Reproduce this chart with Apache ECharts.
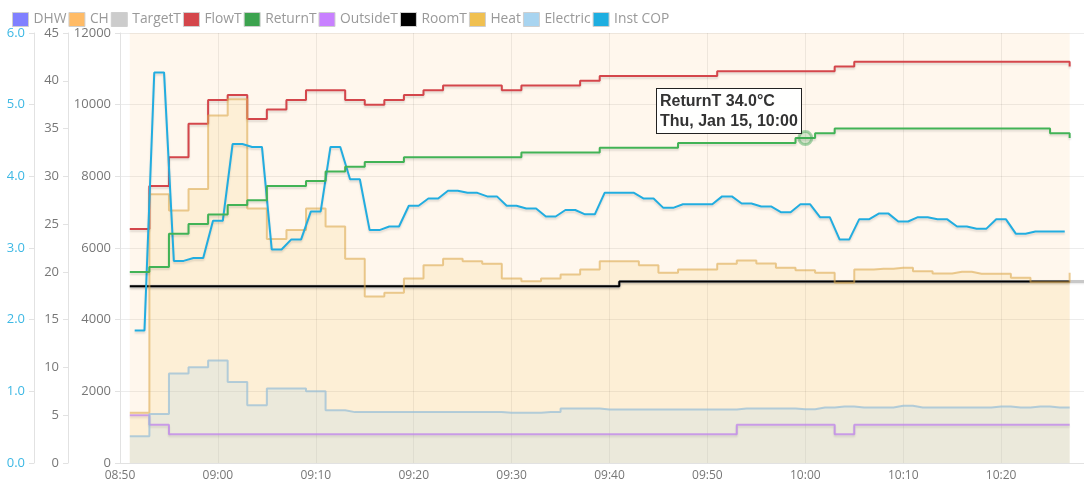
<!DOCTYPE html>
<html>
<head>
<meta charset="utf-8">
<script src="https://cdn.jsdelivr.net/npm/echarts@6/dist/echarts.min.js"></script>
<style>
  html, body { margin: 0; padding: 0; background: #fff; }
  #chart { width: 1084px; height: 487px; }
</style>
</head>
<body>
<div id="chart"></div>
<script>
// one sample per minute, 08:51 .. 10:27 (COP is logged half a minute later,
// TargetT has one more sample at 10:29)
const sampleCount = 97
const copCount = 96
const times = []
for (let i = 0; i < sampleCount; i++) times.push(new Date(2026, 0, 15, 8, 51 + i).getTime())
const copTimes = []
for (let i = 0; i < copCount; i++) copTimes.push(new Date(2026, 0, 15, 8, 51 + i, 30).getTime())
const targetTimes = times.concat([new Date(2026, 0, 15, 10, 29).getTime()])

const legendNames = ['DHW', 'CH', 'TargetT', 'FlowT', 'ReturnT', 'OutsideT', 'RoomT', 'Heat', 'Electric', 'Inst COP']
const tempTicks = [0, 5, 10, 15, 20, 25, 30, 35, 40, 45]
const powerTicks = [0, 2000, 4000, 6000, 8000, 10000, 12000]
const copTicks = [0, 1, 2, 3, 4, 5, 6]

// CH mode flag (1 = heating)
const chMode = [
  1,1,1,1,1,1,1,1,1,1, 1,1,1,1,1,1,1,1,1,1, 1,1,1,1,1,1,1,1,1,1, 1,1,1,1,1,1,1,1,1,1,
  1,1,1,1,1,1,1,1,1,1, 1,1,1,1,1,1,1,1,1,1, 1,1,1,1,1,1,1,1,1,1, 1,1,1,1,1,1,1,1,1,1,
  1,1,1,1,1,1,1,1,1,1, 1,1,1,1,1,1,1
]

// W
const heat = [
  1400,1400, 7500,7500, 7050,7050, 7650,7650, 9700,9700, 10150,10150, 7100,7100, 6250,6250, 6500,6500, 7100,7100,
  6600,6600, 5700,5700, 4650,4650, 4750,4750, 5150,5150, 5520,5520, 5700,5700, 5630,5630, 5560,5560, 5150,5150,
  5075,5075, 5150,5150, 5260,5260, 5400,5400, 5630,5630, 5630,5630, 5520,5520, 5310,5310, 5400,5400, 5400,5400,
  5560,5560, 5650,5650, 5570,5570, 5450,5450, 5380,5380, 5310,5310, 5030,5030, 5400,5400, 5420,5420, 5450,5450,
  5350,5350, 5290,5290, 5335,5335, 5280,5280, 5280,5280, 5170,5170, 5045,5045, 5045,5045,
  5310
]

const electric = [
  750,750, 1370,1370, 2500,2500, 2670,2670, 2860,2860, 2260,2260, 1610,1610, 2080,2080, 2080,2080, 2000,2000,
  1470,1470, 1420,1420, 1420,1420, 1420,1420, 1420,1420, 1420,1420, 1420,1420, 1420,1420, 1420,1420, 1400,1400,
  1400,1400, 1420,1420, 1520,1520, 1520,1520, 1490,1490, 1490,1490, 1490,1490, 1490,1490, 1490,1490, 1490,1490,
  1490,1490, 1520,1520, 1520,1520, 1520,1520, 1500,1500, 1550,1550, 1580,1580, 1550,1550, 1550,1550, 1600,1600,
  1550,1550, 1550,1550, 1550,1550, 1550,1550, 1580,1580, 1550,1550, 1580,1580, 1550,1550,
  1550
]

// °C
const flowT = [
  24.5,24.5, 29,29, 32,32, 35.5,35.5, 38,38, 38.5,38.5, 36,36, 37,37, 38,38, 39,39,
  39,39, 38,38, 37.5,37.5, 38,38, 38.5,38.5, 39,39, 39.5,39.5, 39.5,39.5, 39.5,39.5, 39,39,
  39.5,39.5, 39.5,39.5, 39.5,39.5, 40,40, 40.5,40.5, 40.5,40.5, 40.5,40.5, 40.5,40.5, 40.5,40.5, 40.5,40.5,
  41,41, 41,41, 41,41, 41,41, 41,41, 41,41, 41.5,41.5, 42,42, 42,42, 42,42,
  42,42, 42,42, 42,42, 42,42, 42,42, 42,42, 42,42, 42,42,
  41.5
]

const returnT = [
  20,20, 20.5,20.5, 24,24, 25,25, 26,26, 27,27, 27.5,27.5, 29,29, 29,29, 29.5,29.5,
  30.5,30.5, 31,31, 31.5,31.5, 31.5,31.5, 32,32, 32,32, 32,32, 32,32, 32,32, 32,32,
  32.5,32.5, 32.5,32.5, 32.5,32.5, 32.5,32.5, 33,33, 33,33, 33,33, 33,33, 33.5,33.5, 33.5,33.5,
  33.5,33.5, 33.5,33.5, 33.5,33.5, 33.5,33.5, 34,34, 34.5,34.5, 35,35, 35,35, 35,35, 35,35,
  35,35, 35,35, 35,35, 35,35, 35,35, 35,35, 35,35, 34.5,34.5,
  34
]

const roomT = [
  18.5,18.5, 18.5,18.5, 18.5,18.5, 18.5,18.5, 18.5,18.5, 18.5,18.5, 18.5,18.5, 18.5,18.5, 18.5,18.5, 18.5,18.5,
  18.5,18.5, 18.5,18.5, 18.5,18.5, 18.5,18.5, 18.5,18.5, 18.5,18.5, 18.5,18.5, 18.5,18.5, 18.5,18.5, 18.5,18.5,
  18.5,18.5, 18.5,18.5, 18.5,18.5, 18.5,18.5, 18.5,18.5, 19,19, 19,19, 19,19, 19,19, 19,19,
  19,19, 19,19, 19,19, 19,19, 19,19, 19,19, 19,19, 19,19, 19,19, 19,19,
  19,19, 19,19, 19,19, 19,19, 19,19, 19,19, 19,19, 19,19,
  19
]

const targetT = [
  18.5,18.5, 18.5,18.5, 18.5,18.5, 18.5,18.5, 18.5,18.5, 18.5,18.5, 18.5,18.5, 18.5,18.5, 18.5,18.5, 18.5,18.5,
  18.5,18.5, 18.5,18.5, 18.5,18.5, 18.5,18.5, 18.5,18.5, 18.5,18.5, 18.5,18.5, 18.5,18.5, 18.5,18.5, 18.5,18.5,
  18.5,18.5, 18.5,18.5, 18.5,18.5, 18.5,18.5, 18.5,18.5, 19,19, 19,19, 19,19, 19,19, 19,19,
  19,19, 19,19, 19,19, 19,19, 19,19, 19,19, 19,19, 19,19, 19,19, 19,19,
  19,19, 19,19, 19,19, 19,19, 19,19, 19,19, 19,19, 19,19,
  19, 19
]

const outsideT = [
  5,5, 4,4, 3,3, 3,3, 3,3, 3,3, 3,3, 3,3, 3,3, 3,3,
  3,3, 3,3, 3,3, 3,3, 3,3, 3,3, 3,3, 3,3, 3,3, 3,3,
  3,3, 3,3, 3,3, 3,3, 3,3, 3,3, 3,3, 3,3, 3,3, 3,3,
  3,3, 4,4, 4,4, 4,4, 4,4, 4,4, 3,3, 4,4, 4,4, 4,4,
  4,4, 4,4, 4,4, 4,4, 4,4, 4,4, 4,4, 4,4,
  4
]

const instCop = [
  1.85,1.85, 5.45,5.45, 2.82,2.82, 2.86,2.86, 3.38,3.38, 4.45,4.45, 4.41,4.41, 2.98,2.98, 3.12,3.12, 3.51,3.51,
  4.41,4.41, 3.96,3.96, 3.25,3.25, 3.30,3.30, 3.59,3.59, 3.69,3.69, 3.80,3.80, 3.77,3.77, 3.72,3.72, 3.59,3.59,
  3.55,3.55, 3.44,3.44, 3.53,3.53, 3.47,3.47, 3.77,3.77, 3.77,3.77, 3.69,3.69, 3.56,3.56, 3.61,3.61, 3.61,3.61,
  3.72,3.72, 3.62,3.62, 3.58,3.58, 3.50,3.50, 3.61,3.61, 3.43,3.43, 3.12,3.12, 3.40,3.40, 3.48,3.48, 3.37,3.37,
  3.43,3.43, 3.40,3.40, 3.30,3.30, 3.27,3.27, 3.40,3.40, 3.20,3.20, 3.23,3.23, 3.23,3.23
]

const hoverIndex = 69 // ReturnT at 10:00

const font = 'Open Sans'
const lineShadow = { shadowColor: 'rgba(0,0,0,0.12)', shadowBlur: 2, shadowOffsetY: 2 }
const DAYS = ['Sun', 'Mon', 'Tue', 'Wed', 'Thu', 'Fri', 'Sat']
const MONTHS = ['Jan', 'Feb', 'Mar', 'Apr', 'May', 'Jun', 'Jul', 'Aug', 'Sep', 'Oct', 'Nov', 'Dec']
const TEN_MIN = 600000

function pad(n) {
  return n.toString().padStart(2, '0')
}

function zip(ts, vs) {
  return vs.map((v, i) => [ts[i], v])
}

function tempLine(name, values, color, width, extra) {
  return Object.assign({
    name,
    type: 'line',
    yAxisIndex: 1,
    step: 'end',
    showSymbol: false,
    data: zip(times, values),
    itemStyle: { color },
    lineStyle: Object.assign({ color, width }, lineShadow),
    emphasis: { disabled: true },
  }, extra || {})
}

function yAxis(ticks, offset, labelColor, fmt) {
  return {
    type: 'value',
    position: 'left',
    offset,
    min: ticks[0],
    max: ticks[ticks.length - 1],
    interval: ticks[1] - ticks[0],
    axisLine: { show: true, lineStyle: { color: '#e2e2e2' } },
    axisTick: { show: true, length: 5, lineStyle: { color: '#e2e2e2' } },
    axisLabel: { color: labelColor, fontSize: 13, fontFamily: font, margin: 9, formatter: fmt || ((v) => String(v)) },
    splitLine: { show: false },
  }
}

const chart = echarts.init(document.getElementById('chart'))

const option = {
  animation: false,
  backgroundColor: '#fff',
  legend: {
    data: legendNames,
    left: 7,
    top: 7,
    icon: 'rect',
    itemWidth: 16,
    itemHeight: 14,
    itemGap: 2,
    selectedMode: false,
    itemStyle: { borderColor: '#cfcfcf', borderWidth: 1 },
    textStyle: { color: '#999', fontSize: 13.8, fontFamily: font },
  },
  tooltip: {
    trigger: 'item',
    triggerOn: 'none',
    alwaysShowContent: true,
    transitionDuration: 0,
    position: [656, 88],
    backgroundColor: 'rgba(255,255,255,0.95)',
    borderColor: '#222',
    borderWidth: 1,
    padding: [2, 3],
    textStyle: { fontFamily: 'Liberation Sans', fontWeight: 'bold', fontSize: 16, color: '#333' },
    extraCssText: 'box-shadow:none;border-radius:0;line-height:20px;',
    formatter: (p) => {
      const d = new Date(p.value[0])
      return `${p.seriesName} ${p.value[1].toFixed(1)}°C<br>` +
        `${DAYS[d.getDay()]}, ${MONTHS[d.getMonth()]} ${d.getDate()}, ${pad(d.getHours())}:${pad(d.getMinutes())}`
    },
  },
  grid: { left: 120, right: 0, top: 33, bottom: 24, outerBoundsMode: 'none' },
  xAxis: {
    // plain value axis in ms so the 10 minute step is honoured exactly
    type: 'value',
    min: new Date(2026, 0, 15, 8, 50).getTime(),
    max: new Date(2026, 0, 15, 10, 28, 28).getTime(),
    interval: TEN_MIN,
    axisLine: { show: true, lineStyle: { color: '#e2e2e2' } },
    axisTick: { show: false },
    axisLabel: {
      color: '#777',
      fontSize: 12,
      fontFamily: font,
      margin: 7,
      showMaxLabel: false,
      formatter: (v) => {
        const d = new Date(v)
        return `${pad(d.getHours())}:${pad(d.getMinutes())}`
      },
    },
    splitLine: { show: true, lineStyle: { color: 'rgba(0,0,0,0.075)' } },
  },
  yAxis: [
    Object.assign(yAxis(powerTicks, 0, '#777'), { splitLine: { show: true, lineStyle: { color: 'rgba(0,0,0,0.075)' } } }),
    yAxis(tempTicks, 52, '#777'),
    yAxis(copTicks, 86, '#3db8e4', (v) => v.toFixed(1)),
    { type: 'value', min: 0, max: 1, show: false },
  ],
  series: [
    { name: 'DHW', type: 'line', data: [], itemStyle: { color: '#8080ff' } },
    {
      name: 'CH',
      type: 'line',
      yAxisIndex: 3,
      step: 'end',
      showSymbol: false,
      silent: true,
      data: zip(times, chMode),
      itemStyle: { color: '#ffbb66' },
      lineStyle: { width: 0 },
      areaStyle: { color: 'rgba(255,187,102,0.17)' },
      emphasis: { disabled: true },
    },
    tempLine('TargetT', targetT, '#cccccc', 2, {
      data: zip(targetTimes, targetT),
      lineStyle: { color: '#c8c8c8', width: 3, shadowColor: 'rgba(0,0,0,0.1)', shadowBlur: 2, shadowOffsetY: 1 },
    }),
    tempLine('FlowT', flowT, '#d4464b', 2),
    tempLine('ReturnT', returnT, '#3ca34f', 2, {
      symbol: 'circle',
      symbolSize: 13,
      emphasis: {
        scale: false,
        focus: 'none',
        itemStyle: { color: 'rgba(60,163,79,0.2)', borderColor: 'rgba(60,163,79,0.45)', borderWidth: 3 },
        lineStyle: { width: 2 },
      },
    }),
    tempLine('OutsideT', outsideT, '#c880ff', 2, {
      lineStyle: Object.assign({ color: 'rgba(190,130,235,0.75)', width: 2 }, lineShadow),
    }),
    tempLine('RoomT', roomT, '#000000', 2),
    {
      name: 'Heat',
      type: 'line',
      yAxisIndex: 0,
      step: 'end',
      showSymbol: false,
      data: zip(times, heat),
      itemStyle: { color: '#f0c050' },
      lineStyle: { color: 'rgba(220,170,80,0.6)', width: 2 },
      areaStyle: { color: 'rgba(240,192,80,0.2)' },
      emphasis: { disabled: true },
    },
    {
      name: 'Electric',
      type: 'line',
      yAxisIndex: 0,
      step: 'end',
      showSymbol: false,
      data: zip(times, electric),
      itemStyle: { color: '#a8d4f0' },
      lineStyle: { color: 'rgba(150,190,215,0.7)', width: 2 },
      areaStyle: { color: 'rgba(168,212,240,0.3)' },
      emphasis: { disabled: true },
    },
    {
      name: 'Inst COP',
      type: 'line',
      yAxisIndex: 2,
      showSymbol: false,
      data: zip(copTimes, instCop),
      itemStyle: { color: '#1eaee0' },
      lineStyle: Object.assign({ color: '#22ade0', width: 2 }, lineShadow),
      emphasis: { disabled: true },
    },
  ],
}

chart.setOption(option)
chart.dispatchAction({ type: 'highlight', seriesIndex: 4, dataIndex: hoverIndex })
chart.dispatchAction({ type: 'showTip', seriesIndex: 4, dataIndex: hoverIndex })
</script>
</body>
</html>
